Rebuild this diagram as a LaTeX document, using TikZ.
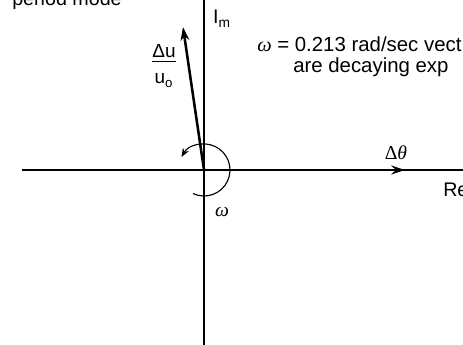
\documentclass[tikz,border=0pt]{standalone}
\usepackage{amsmath}
\usepackage{fontspec}
\setsansfont{Liberation Sans}
\newfontfamily\greekserif{Liberation Serif}
\usepackage{tikz}
\usetikzlibrary{arrows.meta}

\newcommand{\omg}{{\greekserif\itshape ω}}

\begin{document}
\begin{tikzpicture}[font = \sffamily\fontsize{14}{16}\selectfont]
        \useasboundingbox (-5.1,-4.35) rectangle (6.475,4.25);
        \clip (-5.1,-4.35) rectangle (6.475,4.25);

        % axes
        \coordinate (O) at (0,0);
        \coordinate (left) at (-4.55,0);
        \coordinate (right) at (6.6,0);
        \coordinate (top) at (0,4.4);
        \coordinate (bottom) at (0,-4.5);
        \draw[line width = 0.8pt] (left) -- (right);
        \draw[line width = 0.8pt] (bottom) -- (top);

        % vectors
        \coordinate (dth) at (5.025,0);
        \coordinate (du) at (-0.525,3.575);
        \draw[line width = 1.8pt, -{Stealth[length=3.4mm, width=2.2mm]}] (O) -- (dth);
        \draw[line width = 1.8pt, -{Stealth[length=3.4mm, width=2.2mm]}] (O) -- (du);

        % rotation
        \draw[line width = 0.8pt, -{Stealth[length=2.2mm, width=1.7mm]}] (-115:0.65) arc (-115:150:0.65);

        % labels
        \node[anchor = base west, inner sep = 0pt] (im) at (0.22,3.65) {I\textsubscript{m}};
        \node[anchor = base west, inner sep = 0pt] (re) at (5.975,-0.675) {Re};
        \node[anchor = base, inner sep = 0pt] (dthlabel) at (4.8,0.25) {\greekserif Δ\itshape θ};
        \node[inner sep = 0pt, font = \sffamily\fontsize{13.5}{16}\selectfont] (dulabel) at (-1.0,2.6)
            {\begin{tabular}{@{}c@{}}Δu\\[-2pt]\hline\rule{0pt}{16pt}u\textsubscript{o}\end{tabular}};
        \node[inner sep = 0pt] (omega) at (0.45,-1.05) {\omg};
        \node[anchor = base west, inner sep = 0pt, font = \sffamily\fontsize{14.5}{17}\selectfont] (note1) at (1.325,2.95) {\omg{} = 0.213 rad/sec vect};
        \node[anchor = base west, inner sep = 0pt, font = \sffamily\fontsize{14.5}{17}\selectfont] (note2) at (2.225,2.425) {are decaying exp};
        \node[anchor = base east, inner sep = 0pt] (caption) at (-2.05,4.12) {period mode};
\end{tikzpicture}
\end{document}
